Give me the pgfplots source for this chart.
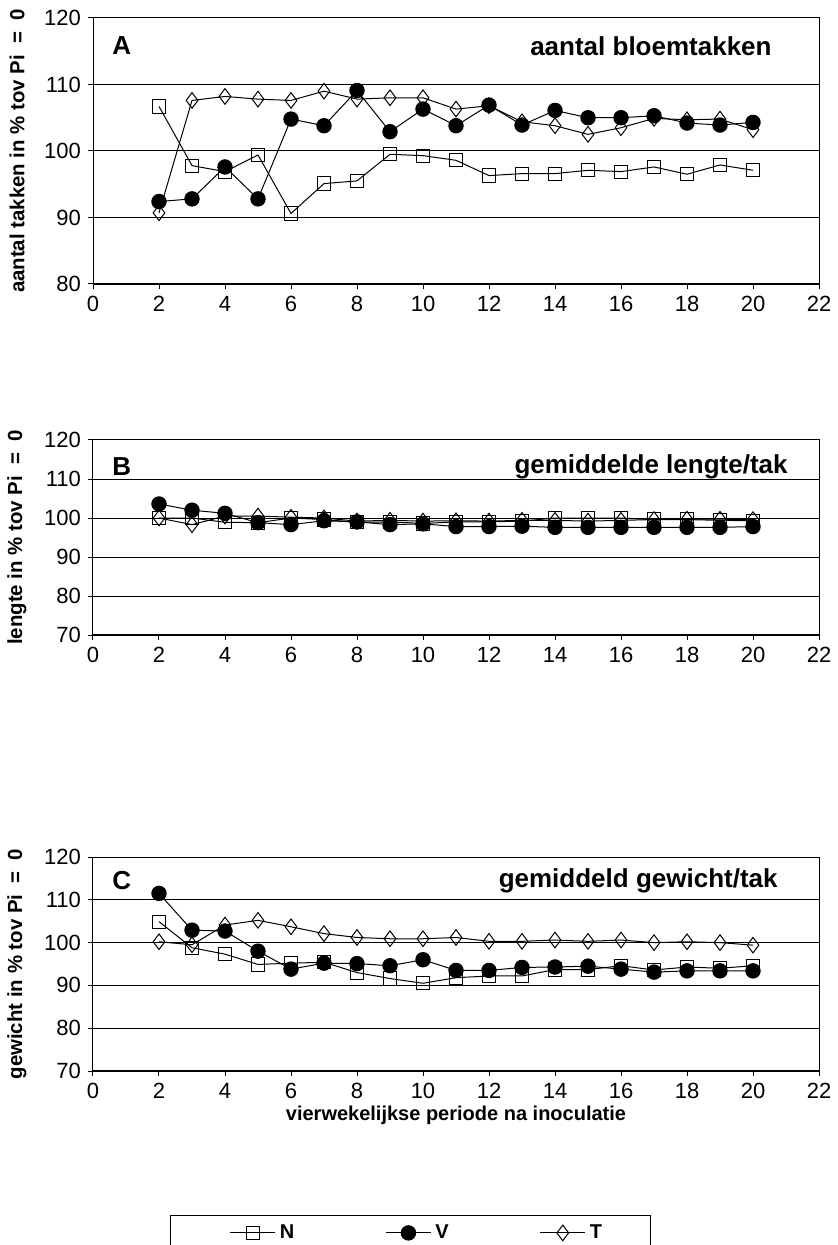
\documentclass[border=0pt]{standalone}
\usepackage{fontspec}
\setmainfont{Liberation Sans}
\usepackage{pgfplots}
\pgfplotsset{compat=1.18}

\pgfplotsset{
  panel/.style={
    scale only axis, width=363pt, anchor=north west,
    xmin=0, xmax=22, xtick={0,2,...,22}, ytick distance=10,
    axis line style={black, line width=0.5pt},
    tick style={black, line width=0.5pt}, tick align=outside, major tick length=2.5pt,
    xtick pos=bottom, ytick pos=left,
    ymajorgrids, grid style={black, line width=0.5pt},
    ticklabel style={font=\fontsize{11}{13}\selectfont},
    /pgf/number format/assume math mode=true,
    every axis y label/.style={at={(axis description cs:-0.1047,0.5)}, rotate=90, anchor=center,
      font=\bfseries\fontsize{10.2}{12}\selectfont},
    every axis x label/.style={at={(axis description cs:0.5,0)}, anchor=north, yshift=-14pt,
      font=\bfseries\fontsize{10}{12}\selectfont},
    every axis plot/.append style={black, line width=0.5pt},
    clip=false,
  },
  sN/.style={mark=square, mark size=3.3pt},
  sV/.style={mark=*, mark size=3.6pt, mark options={fill=black}},
  sT/.style={mark=diamond, mark size=3.9pt},
}
\tikzset{
  plab/.style={font=\bfseries\fontsize{13}{15}\selectfont, anchor=west, inner sep=0pt},
  ptit/.style={font=\bfseries\fontsize{13}{15}\selectfont, anchor=east, inner sep=0pt},
}

\begin{document}
\begin{tikzpicture}
\useasboundingbox (-46.5pt,9pt) rectangle (372.5pt,-613.5pt);

% A: aantal bloemtakken
\begin{axis}[panel, at={(0pt,0pt)}, height=133pt, ymin=80, ymax=120,
  ylabel={aantal takken in \% tov Pi\ \ =\ \ 0}]
\addplot[sN] coordinates {(2,106.7)(3,97.8)(4,96.9)(5,99.4)(6,90.6)(7,95.1)(8,95.5)(9,99.5)(10,99.3)(11,98.6)(12,96.3)(13,96.6)(14,96.6)(15,97.1)(16,96.9)(17,97.6)(18,96.5)(19,97.9)(20,97.1)};
\addplot[sV] coordinates {(2,92.4)(3,92.8)(4,97.6)(5,92.8)(6,104.8)(7,103.8)(8,109.1)(9,102.9)(10,106.3)(11,103.8)(12,106.9)(13,103.9)(14,106.1)(15,105.0)(16,105.0)(17,105.3)(18,104.2)(19,103.9)(20,104.3)};
\addplot[sT] coordinates {(2,90.7)(3,107.6)(4,108.2)(5,107.8)(6,107.6)(7,109.0)(8,107.8)(9,108.0)(10,108.0)(11,106.3)(12,106.8)(13,104.4)(14,103.8)(15,102.5)(16,103.5)(17,104.9)(18,104.7)(19,104.8)(20,103.2)};
\draw[line width=1pt] (rel axis cs:0,0) -- (rel axis cs:1,0);
\node[plab, xshift=9.5pt, yshift=-14pt] at (rel axis cs:0,1) {A};
\node[ptit, xshift=-23.5pt, yshift=-14pt] at (rel axis cs:1,1) {aantal bloemtakken};
\end{axis}

% B: gemiddelde lengte/tak
\begin{axis}[panel, at={(0pt,-211pt)}, height=97.5pt, ymin=70, ymax=120,
  ylabel={lengte in \% tov Pi\ \ =\ \ 0}]
\addplot[sN] coordinates {(2,100.0)(3,100.0)(4,98.9)(5,98.8)(6,100.0)(7,99.6)(8,98.9)(9,99.0)(10,98.6)(11,99.0)(12,99.0)(13,99.2)(14,100.0)(15,100.0)(16,100.0)(17,99.6)(18,99.6)(19,99.4)(20,99.3)};
\addplot[sV] coordinates {(2,103.6)(3,102.0)(4,101.2)(5,98.8)(6,98.3)(7,99.3)(8,99.0)(9,98.3)(10,98.5)(11,97.8)(12,97.8)(13,97.9)(14,97.6)(15,97.6)(16,97.6)(17,97.6)(18,97.6)(19,97.6)(20,97.8)};
\addplot[sT] coordinates {(2,100.0)(3,98.3)(4,100.5)(5,100.5)(6,100.2)(7,100.0)(8,99.2)(9,99.4)(10,99.2)(11,99.3)(12,99.2)(13,99.4)(14,99.4)(15,99.2)(16,99.4)(17,99.6)(18,99.7)(19,99.7)(20,99.6)};
\draw[line width=1pt] (rel axis cs:0,0) -- (rel axis cs:1,0);
\node[plab, xshift=9.5pt, yshift=-13.5pt] at (rel axis cs:0,1) {B};
\node[ptit, xshift=-15.5pt, yshift=-13.5pt] at (rel axis cs:1,1) {gemiddelde lengte/tak};
\end{axis}

% C: gemiddeld gewicht/tak
\begin{axis}[panel, at={(0pt,-419.5pt)}, height=107pt, ymin=70, ymax=120,
  ylabel={gewicht in \% tov Pi\ \ =\ \ 0},
  xlabel={vierwekelijkse periode na inoculatie},
  legend columns=3,
  legend style={at={(axis description cs:0.438,-0.673)}, anchor=north, draw=black,
    line width=0.5pt, inner xsep=22.5pt, inner ysep=2.5pt,
    font=\bfseries\fontsize{10}{12}\selectfont,
    /tikz/every even column/.append style={column sep=36.5pt}},
  legend image code/.code={\path (-7pt,0pt);
    \draw[mark repeat=2, mark phase=2] plot coordinates {(0pt,0pt) (11.25pt,0pt) (22.5pt,0pt)};}]
\addplot[sN] coordinates {(2,104.9)(3,98.8)(4,97.3)(5,94.9)(6,95.2)(7,95.4)(8,93.0)(9,91.6)(10,90.5)(11,91.8)(12,92.2)(13,92.2)(14,93.7)(15,93.7)(16,94.6)(17,93.6)(18,94.3)(19,94.0)(20,94.6)};
\addplot[sV] coordinates {(2,111.5)(3,102.9)(4,102.7)(5,98.0)(6,93.8)(7,95.2)(8,95.1)(9,94.6)(10,96.0)(11,93.5)(12,93.5)(13,94.2)(14,94.3)(15,94.5)(16,93.8)(17,93.1)(18,93.4)(19,93.4)(20,93.4)};
\addplot[sT] coordinates {(2,100.2)(3,99.5)(4,104.1)(5,105.2)(6,103.7)(7,102.1)(8,101.2)(9,100.9)(10,100.9)(11,101.2)(12,100.3)(13,100.3)(14,100.6)(15,100.3)(16,100.6)(17,100.0)(18,100.2)(19,100.0)(20,99.4)};
\draw[line width=1pt] (rel axis cs:0,0) -- (rel axis cs:1,0);
\node[plab, xshift=9.5pt, yshift=-12pt] at (rel axis cs:0,1) {C};
\node[ptit, xshift=-20.5pt, yshift=-12pt] at (rel axis cs:1,1) {gemiddeld gewicht/tak};
\legend{N, V, T}
\end{axis}
\end{tikzpicture}
\end{document}
